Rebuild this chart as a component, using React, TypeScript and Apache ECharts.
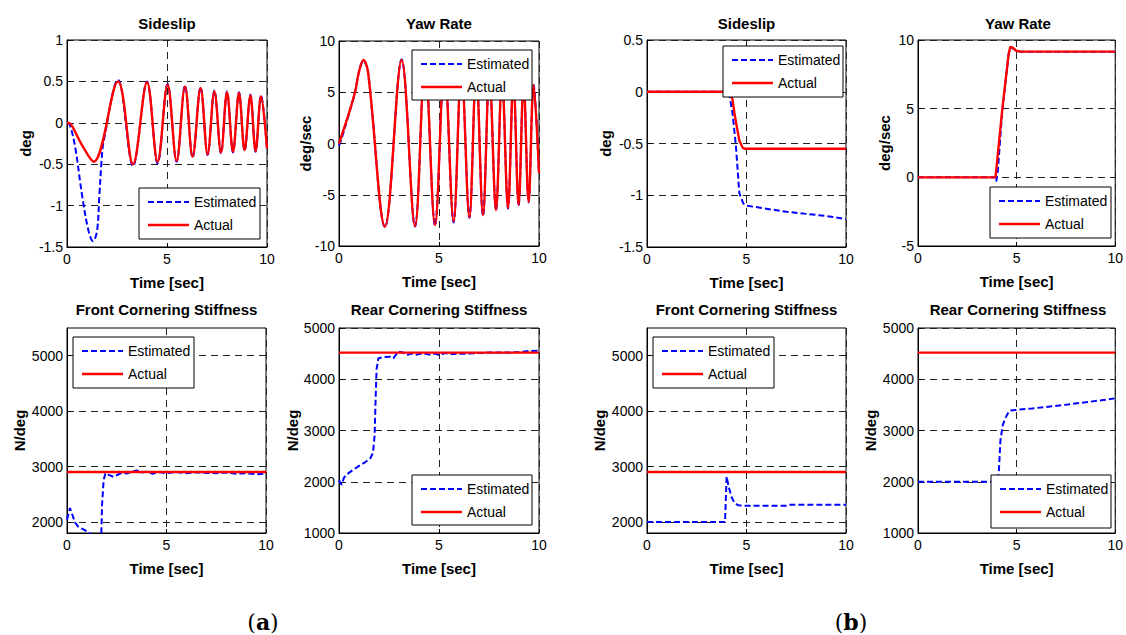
import React, { useEffect, useRef } from "react";
import * as echarts from "echarts";

// ---------- data (time [sec], value) ----------
const aSideslipEstimated: number[][] = [
  [0, 0], [0.15, -0.03], [0.42, -0.31], [0.75, -0.87], [1.08, -1.31], [1.3, -1.43], [1.5, -1.31], [1.62, -0.87],
  [1.72, -0.49], [1.83, -0.23], [2.55, 0.52], [3.3, -0.52], [4.0, 0.5], [4.53, -0.49], [5.03, 0.47], [5.48, -0.47],
  [5.9, 0.45], [6.28, -0.42], [6.68, 0.43], [7.03, -0.39], [7.37, 0.39], [7.7, -0.37], [8.0, 0.38], [8.3, -0.36],
  [8.6, 0.37], [8.88, -0.34], [9.17, 0.34], [9.43, -0.35], [9.7, 0.33], [10, -0.32],
];
const aSideslipActual: number[][] = [
  [0, 0], [0.2, -0.02], [0.75, -0.27], [1.33, -0.47], [2.55, 0.5], [3.3, -0.5], [4.0, 0.49], [4.53, -0.47], [5.03, 0.46],
  [5.48, -0.46], [5.9, 0.44], [6.28, -0.41], [6.68, 0.42], [7.03, -0.38], [7.37, 0.38], [7.7, -0.36], [8.0, 0.37],
  [8.3, -0.35], [8.6, 0.36], [8.88, -0.33], [9.17, 0.33], [9.43, -0.34], [9.7, 0.32], [10, -0.31],
];
const aYawEstimated: number[][] = [
  [0, -0.2], [0.1, 0.3], [0.47, 2.7], [0.8, 5.0], [1.0, 7.0], [1.22, 8.1], [1.45, 7.0], [2.3, -8.15], [3.13, 8.2],
  [3.8, -8.1], [4.3, 8.0], [4.8, -8.0], [5.27, 7.7], [5.73, -7.7], [6.12, 7.4], [6.52, -7.25], [6.86, 7.1], [7.2, -7.05],
  [7.52, 6.8], [7.85, -6.55], [8.15, 6.5], [8.45, -6.35], [8.72, 6.3], [8.98, -6.05], [9.23, 6.0], [9.48, -5.75],
  [9.73, 5.7], [10, -2.9],
];
const aYawActual: number[][] = [
  [0, 0], [0.47, 2.8], [0.8, 5.0], [1.0, 7.0], [1.22, 8.15], [1.45, 7.0], [2.3, -8.1], [3.13, 8.15], [3.8, -8.05],
  [4.3, 8.0], [4.8, -7.95], [5.27, 7.7], [5.73, -7.6], [6.12, 7.4], [6.52, -7.2], [6.86, 7.1], [7.2, -7.0], [7.52, 6.8],
  [7.85, -6.5], [8.15, 6.5], [8.45, -6.3], [8.72, 6.3], [8.98, -6.0], [9.23, 6.0], [9.48, -5.7], [9.73, 5.7], [10, -2.9],
];
const aFrontEstimated: number[][] = [
  [0, 2040], [0.08, 2150], [0.15, 2250], [0.25, 2150], [0.4, 1990], [0.57, 1910], [0.8, 1870], [1.0, 1830], [1.16, 1790],
  [1.4, 1720], [1.6, 1700], [1.72, 1740], [1.76, 2300], [1.84, 2750], [1.93, 2880], [2.1, 2850], [2.33, 2815], [2.6, 2860],
  [2.8, 2890], [3.0, 2875], [3.3, 2910], [3.5, 2930], [3.7, 2890], [4.0, 2905], [4.3, 2870], [4.6, 2900], [5.0, 2880],
  [5.5, 2900], [6.0, 2880], [6.5, 2895], [7.0, 2885], [7.5, 2880], [8.0, 2890], [8.5, 2870], [9.0, 2880], [9.5, 2860],
  [10, 2870],
];
const aFrontActual: number[][] = [[0, 2900], [10, 2900]];
const aRearEstimated: number[][] = [
  [0, 2030], [0.13, 1940], [0.25, 2080], [0.38, 2140], [0.7, 2230], [1.05, 2320], [1.3, 2380], [1.55, 2450], [1.7, 2560],
  [1.78, 2900], [1.83, 3600], [1.88, 4200], [1.97, 4410], [2.2, 4430], [2.55, 4440], [2.72, 4410], [2.85, 4480], [2.97, 4540],
  [3.2, 4520], [3.4, 4470], [3.6, 4500], [3.9, 4480], [4.2, 4510], [4.5, 4480], [4.8, 4500], [5.0, 4470], [5.3, 4510],
  [5.6, 4490], [6.0, 4500], [6.5, 4500], [7.0, 4510], [7.5, 4520], [8.0, 4520], [8.5, 4520], [9.0, 4530], [9.5, 4550],
  [10, 4560],
];
const aRearActual: number[][] = [[0, 4520], [10, 4520]];

const bSideslipEstimated: number[][] = [
  [0, 0], [4.0, 0], [4.15, -0.04], [4.3, -0.21], [4.47, -0.53], [4.64, -0.98], [4.84, -1.08], [5.0, -1.1], [6.0, -1.13],
  [7.0, -1.16], [8.0, -1.18], [9.0, -1.2], [10, -1.23],
];
const bSideslipActual: number[][] = [
  [0, 0], [4.2, 0], [4.3, -0.08], [4.42, -0.24], [4.64, -0.47], [4.8, -0.54], [4.9, -0.55], [10, -0.55],
];
const bYawEstimated: number[][] = [
  [0, 0], [3.9, 0], [3.97, -0.3], [4.05, 0.5], [4.27, 4.8], [4.6, 9.0], [4.68, 9.45], [4.8, 9.4], [5.0, 9.2], [5.2, 9.15],
  [10, 9.15],
];
const bYawActual: number[][] = [
  [0, 0], [3.93, 0], [4.27, 4.9], [4.6, 9.0], [4.68, 9.5], [4.8, 9.45], [5.0, 9.2], [5.2, 9.15], [10, 9.15],
];
const bFrontEstimated: number[][] = [
  [0, 2000], [3.92, 2000], [3.97, 2500], [4.0, 2820], [4.1, 2640], [4.25, 2450], [4.4, 2340], [4.59, 2300], [5.0, 2290],
  [6.0, 2290], [7.0, 2290], [7.15, 2310], [8.0, 2310], [9.0, 2310], [10, 2310],
];
const bFrontActual: number[][] = [[0, 2900], [10, 2900]];
const bRearEstimated: number[][] = [
  [0, 2000], [4.02, 2000], [4.1, 2200], [4.18, 2810], [4.3, 3110], [4.43, 3240], [4.55, 3330], [4.68, 3390], [4.93, 3400],
  [5.77, 3430], [6.5, 3460], [7.43, 3500], [8.5, 3550], [9.3, 3590], [10, 3628],
];
const bRearActual: number[][] = [[0, 4520], [10, 4520]];

// ---------- axes ----------
const timeRange = [0, 10];
const timeStep = 5;
const sideslipATicks = [-1.5, -1, -0.5, 0, 0.5, 1];
const sideslipBTicks = [-1.5, -1, -0.5, 0, 0.5];
const yawATicks = [-10, -5, 0, 5, 10];
const yawBTicks = [-5, 0, 5, 10];
const frontTicks = [2000, 3000, 4000, 5000];
const frontRange = [1800, 5500];
const rearTicks = [1000, 2000, 3000, 4000, 5000];

const seriesNames = ["Estimated", "Actual"];

const FONT = "'Liberation Sans', Arial, Helvetica, sans-serif";

type Panel = {
  left: number; top: number; width: number; height: number;
  title: string; yName: string; nameGap: number;
  ticks: number[]; range?: number[];
  est: number[][]; act: number[][]; smooth: number | boolean;
  legend: number[];
};

const panels: Panel[] = [
  { left: 67, top: 40, width: 200, height: 207, title: "Sideslip", yName: "deg", nameGap: 34, ticks: sideslipATicks,
    est: aSideslipEstimated, act: aSideslipActual, smooth: 0.36, legend: [139, 188, 121, 51] },
  { left: 339, top: 41, width: 200, height: 205, title: "Yaw Rate", yName: "deg/sec", nameGap: 26, ticks: yawATicks,
    est: aYawEstimated, act: aYawActual, smooth: 0.36, legend: [412, 50, 120, 50] },
  { left: 647, top: 40, width: 199, height: 207, title: "Sideslip", yName: "deg", nameGap: 34, ticks: sideslipBTicks,
    est: bSideslipEstimated, act: bSideslipActual, smooth: false, legend: [723, 46, 120, 51] },
  { left: 918, top: 40, width: 200, height: 206, title: "Yaw Rate", yName: "deg/sec", nameGap: 26, ticks: yawBTicks,
    est: bYawEstimated, act: bYawActual, smooth: false, legend: [990, 187, 121, 51] },
  { left: 67, top: 328, width: 199, height: 205, title: "Front Cornering Stiffness", yName: "N/deg", nameGap: 40,
    ticks: frontTicks, range: frontRange, est: aFrontEstimated, act: aFrontActual, smooth: false, legend: [73, 337, 121, 51] },
  { left: 339, top: 328, width: 200, height: 205, title: "Rear Cornering Stiffness", yName: "N/deg", nameGap: 39,
    ticks: rearTicks, est: aRearEstimated, act: aRearActual, smooth: false, legend: [412, 475, 120, 50] },
  { left: 647, top: 328, width: 199, height: 205, title: "Front Cornering Stiffness", yName: "N/deg", nameGap: 40,
    ticks: frontTicks, range: frontRange, est: bFrontEstimated, act: bFrontActual, smooth: false, legend: [653, 337, 121, 51] },
  { left: 918, top: 328, width: 200, height: 205, title: "Rear Cornering Stiffness", yName: "N/deg", nameGap: 40,
    ticks: rearTicks, est: bRearEstimated, act: bRearActual, smooth: false, legend: [991, 475, 120, 53] },
];

const BLUE = "#0000ff";
const RED = "#ff0000";

function legendGraphics(box: number[]) {
  const [x, y, w, h] = box;
  const textStyle = (t: string, ty: number) => ({
    type: "text", x: x + 55, y: ty, z: 102,
    style: { text: t, fill: "#000", fontSize: 14, fontFamily: FONT, verticalAlign: "middle", textVerticalAlign: "middle" },
  });
  return [
    { type: "rect", z: 100, shape: { x, y, width: w, height: h }, style: { fill: "#fff", stroke: "#000", lineWidth: 1 } },
    { type: "line", z: 101, shape: { x1: x + 9, y1: y + 14, x2: x + 50, y2: y + 14 }, style: { stroke: BLUE, lineWidth: 2, lineDash: [6, 3] } },
    textStyle(seriesNames[0], y + 14),
    { type: "line", z: 101, shape: { x1: x + 9, y1: y + 37, x2: x + 50, y2: y + 37 }, style: { stroke: RED, lineWidth: 2.4 } },
    textStyle(seriesNames[1], y + 37),
  ];
}

export default function App() {
  const ref = useRef<HTMLDivElement>(null);

  useEffect(() => {
    if (!ref.current) return;
    const chart = echarts.init(ref.current, undefined, { renderer: "svg" });

    const grid = panels.map((p) => ({
      left: p.left, top: p.top, width: p.width, height: p.height,
      show: true, borderColor: "#000", borderWidth: 1, backgroundColor: "#fff", containLabel: false,
    }));

    const xAxis = panels.map((p, i) => ({
      gridIndex: i, type: "value", min: timeRange[0], max: timeRange[1], interval: timeStep,
      name: "Time [sec]", nameLocation: "middle", nameGap: 28, nameMoveOverlap: false,
      nameTextStyle: { color: "#000", fontSize: 15, fontWeight: "bold", fontFamily: FONT },
      axisLine: { show: true, onZero: false, lineStyle: { color: "#000", width: 1 } },
      axisTick: { show: true, inside: true, length: 4, lineStyle: { color: "#000" } },
      axisLabel: { color: "#000", fontSize: 14, fontFamily: FONT, margin: 5, formatter: (v: number) => String(v) },
      splitLine: { show: true, lineStyle: { color: "#222", width: 1, type: [7, 5] } },
    }));

    const yAxis = panels.map((p, i) => {
      const min = p.range ? p.range[0] : p.ticks[0];
      const max = p.range ? p.range[1] : p.ticks[p.ticks.length - 1];
      const interval = p.ticks[1] - p.ticks[0];
      const base: any = {
        gridIndex: i, type: "value", min, max,
        name: p.yName, nameLocation: "middle", nameGap: p.nameGap, nameRotate: 90, nameMoveOverlap: false,
        nameTextStyle: { color: "#000", fontSize: 15, fontWeight: "bold", fontFamily: FONT },
        axisLine: { show: true, onZero: false, lineStyle: { color: "#000", width: 1 } },
        axisTick: { show: true, inside: true, length: 4, lineStyle: { color: "#000" } },
        axisLabel: { color: "#000", fontSize: 14, fontFamily: FONT, margin: 4, formatter: (v: number) => String(v) },
        splitLine: { show: true, lineStyle: { color: "#222", width: 1, type: [7, 5] } },
      };
      if (p.range) {
        base.axisLabel.customValues = p.ticks;
        base.axisTick.customValues = p.ticks;
      } else {
        base.interval = interval;
      }
      return base;
    });

    const series: any[] = [];
    panels.forEach((p, i) => {
      series.push({
        name: seriesNames[0], type: "line", xAxisIndex: i, yAxisIndex: i, data: p.est,
        showSymbol: false, symbol: "none", smooth: p.smooth, clip: true, z: 3,
        lineStyle: { color: BLUE, width: 2, type: [6, 3] },
      });
      series.push({
        name: seriesNames[1], type: "line", xAxisIndex: i, yAxisIndex: i, data: p.act,
        showSymbol: false, symbol: "none", smooth: p.smooth, clip: true, z: 4,
        lineStyle: { color: RED, width: 2.4 },
      });
    });

    const graphic: any[] = [];
    panels.forEach((p) => {
      graphic.push({
        type: "text", x: p.left + p.width / 2, y: p.top < 100 ? 23 : 309, z: 50,
        style: {
          text: p.title, fill: "#000", fontSize: 15, fontWeight: "bold", fontFamily: FONT,
          align: "center", textAlign: "center", verticalAlign: "middle", textVerticalAlign: "middle",
        },
      });
      graphic.push(...legendGraphics(p.legend));
    });
    const serif = "'DejaVu Serif', 'Liberation Serif', serif";
    const panelLabel = (letter: string, cx: number) => ({
      type: "text", x: cx, y: 622, z: 50,
      style: {
        text: `{p|(}{b|${letter}}{p|)}`, align: "center", textAlign: "center", verticalAlign: "middle", textVerticalAlign: "middle",
        rich: {
          p: { fontFamily: serif, fontSize: 22, fill: "#000", color: "#000" },
          b: { fontFamily: serif, fontSize: 22, fontWeight: "bold", fill: "#000", color: "#000" },
        },
      },
    });
    graphic.push(panelLabel("a", 263), panelLabel("b", 851));

    chart.setOption({
      animation: false,
      backgroundColor: "#fff",
      textStyle: { fontFamily: FONT },
      grid, xAxis, yAxis, series, graphic,
    });

    return () => chart.dispose();
  }, []);

  return <div ref={ref} style={{ position: "fixed", left: 0, top: 0, width: 1126, height: 635, background: "#fff" }} />;
}
